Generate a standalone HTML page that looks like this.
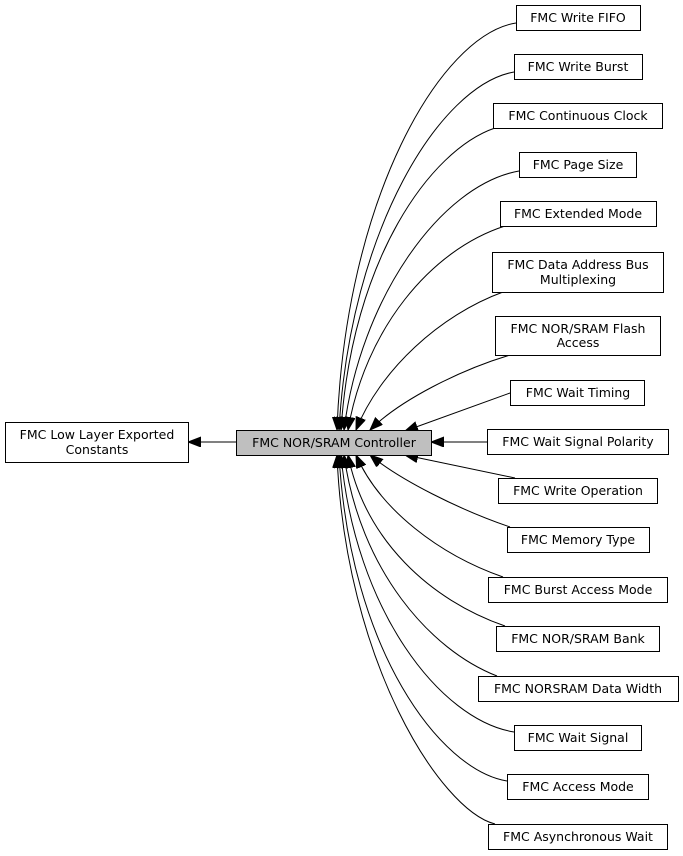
<!DOCTYPE html>
<html><head><meta charset="utf-8"><style>
html,body{margin:0;padding:0;background:#fff;}
svg{display:block;}
text{font-family:"DejaVu Sans","Liberation Sans",sans-serif;font-size:12.5px;fill:#000;}
</style></head><body>
<svg width="683" height="856" viewBox="0 0 683 856" xmlns="http://www.w3.org/2000/svg">
<defs>
<marker id="a" markerUnits="userSpaceOnUse" markerWidth="14" markerHeight="12" refX="13" refY="5" orient="auto">
<polygon points="0,0 13,5 0,10" fill="#000" stroke="#000"/>
</marker>
</defs>
<g fill="none" stroke="#000" stroke-width="1" marker-end="url(#a)">
<!-- top -->
<path d="M516,23 C440,35 345,200 337,430"/>
<path d="M514,72 C440,85 350,230 339,430"/>
<path d="M495,128 C430,150 352,260 341,430"/>
<path d="M519,171 C440,185 360,300 344,430"/>
<path d="M505,226 C430,250 365,330 348,430"/>
<path d="M503,292 C440,315 380,370 356,430"/>
<path d="M510,355 C460,370 400,400 370,430"/>
<path d="M510,393 L405,431"/>
<!-- bottom -->
<path d="M515,478 L405,455"/>
<path d="M510,527 C460,510 400,480 370,455"/>
<path d="M503,577 C440,555 380,510 356,455"/>
<path d="M505,626 C430,600 365,540 348,455"/>
<path d="M497,676 C430,650 360,570 344,455"/>
<path d="M514,732 C440,720 355,610 341,455"/>
<path d="M507,781 C440,770 350,650 339,455"/>
<path d="M495,824 C440,810 345,660 337,455"/>
<!-- horizontal -->
<path d="M487,442 L431,442"/>
<path d="M236,442 L188,442"/>
</g>
<g stroke="#000" stroke-width="1" fill="#fff">
<rect x="5.5" y="422.5" width="183" height="40"/>
<rect x="236.5" y="430.5" width="195" height="25" fill="#bfbfbf"/>
<rect x="516.5" y="5.5" width="124" height="25"/>
<rect x="514.5" y="54.5" width="128" height="25"/>
<rect x="493.5" y="103.5" width="169" height="25"/>
<rect x="519.5" y="152.5" width="117" height="25"/>
<rect x="500.5" y="201.5" width="156" height="25"/>
<rect x="492.5" y="252.5" width="171" height="40"/>
<rect x="495.5" y="316.5" width="165" height="39"/>
<rect x="510.5" y="380.5" width="134" height="25"/>
<rect x="487.5" y="429.5" width="181" height="25"/>
<rect x="498.5" y="478.5" width="159" height="25"/>
<rect x="507.5" y="527.5" width="142" height="25"/>
<rect x="488.5" y="577.5" width="179" height="25"/>
<rect x="496.5" y="626.5" width="163" height="25"/>
<rect x="478.5" y="676.5" width="200" height="25"/>
<rect x="514.5" y="725.5" width="127" height="25"/>
<rect x="507.5" y="774.5" width="141" height="25"/>
<rect x="488.5" y="824.5" width="179" height="25"/>
</g>
<g text-anchor="middle">
<text x="97" y="439">FMC Low Layer Exported</text>
<text x="97" y="454">Constants</text>
<text x="334" y="447">FMC NOR/SRAM Controller</text>
<text x="578" y="22">FMC Write FIFO</text>
<text x="578" y="71">FMC Write Burst</text>
<text x="578" y="120">FMC Continuous Clock</text>
<text x="578" y="169">FMC Page Size</text>
<text x="578" y="218">FMC Extended Mode</text>
<text x="578" y="269">FMC Data Address Bus</text>
<text x="578" y="284">Multiplexing</text>
<text x="578" y="333">FMC NOR/SRAM Flash</text>
<text x="578" y="347">Access</text>
<text x="578" y="397">FMC Wait Timing</text>
<text x="578" y="446">FMC Wait Signal Polarity</text>
<text x="578" y="495">FMC Write Operation</text>
<text x="578" y="544">FMC Memory Type</text>
<text x="578" y="594">FMC Burst Access Mode</text>
<text x="578" y="643">FMC NOR/SRAM Bank</text>
<text x="578" y="693">FMC NORSRAM Data Width</text>
<text x="578" y="742">FMC Wait Signal</text>
<text x="578" y="791">FMC Access Mode</text>
<text x="578" y="841">FMC Asynchronous Wait</text>
</g>
</svg>
</body></html>
